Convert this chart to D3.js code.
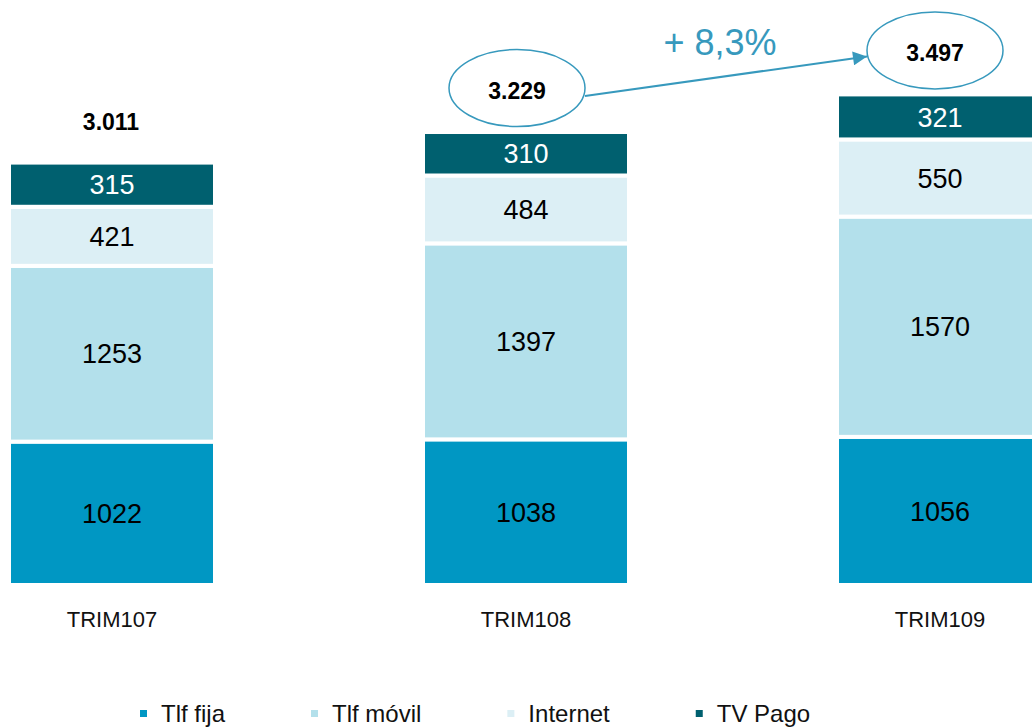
<!DOCTYPE html>
<html>
<head>
<meta charset="utf-8">
<script src="https://cdn.jsdelivr.net/npm/d3@7"></script>
<style>
  html, body { margin: 0; padding: 0; background: #fff; }
  svg { display: block; font-family: "Liberation Sans", Arial, sans-serif; }
</style>
</head>
<body>
<svg id="chart" width="1032" height="727"></svg>
<script>
// ---- data ----
const categories = ["TRIM107", "TRIM108", "TRIM109"];
const seriesNames = ["Tlf fija", "Tlf móvil", "Internet", "TV Pago"];
const tlfFija  = [1022, 1038, 1056];
const tlfMovil = [1253, 1397, 1570];
const internet = [421, 484, 550];
const tvPago   = [315, 310, 321];
const seriesColors = ["#0097C3", "#B3E0EB", "#DCEFF5", "#00606F"];
const labelColors  = ["#000", "#000", "#000", "#fff"];
const circledTotals = [false, true, true];

// ---- setup ----
const svg = d3.select("#chart");
const values = [tlfFija, tlfMovil, internet, tvPago];
const rows = categories.map((c, i) => {
  const r = { cat: c };
  seriesNames.forEach((s, j) => r[s] = values[j][i]);
  return r;
});
const stacked = d3.stack().keys(seriesNames)(rows);
const totals = categories.map((c, i) => d3.sum(values, v => v[i]));

const x = d3.scaleBand().domain(categories).range([-95, 1147])
  .paddingInner(0.5024).paddingOuter(0.2512);
const y = d3.scaleLinear().domain([0, 4170]).range([585, 0]);

const fmtThousands = v => d3.format(",")(v).replace(/,/g, ".");

// ---- bars ----
const layers = svg.append("g").selectAll("g").data(stacked).join("g")
  .attr("fill", (d, i) => seriesColors[i]);
layers.selectAll("rect").data(d => d)
  .join("rect")
  .attr("x", d => x(d.data.cat))
  .attr("width", x.bandwidth())
  .attr("y", d => y(d[1]))
  .attr("height", d => y(d[0]) - y(d[1]))
  .attr("stroke", "#fff")
  .attr("stroke-width", 4);

// ---- segment labels ----
stacked.forEach((layer, j) => {
  svg.append("g").selectAll("text").data(layer).join("text")
    .attr("x", d => x(d.data.cat) + x.bandwidth() / 2)
    .attr("y", d => (y(d[0]) + y(d[1])) / 2)
    .attr("dy", "0.36em")
    .attr("text-anchor", "middle")
    .attr("font-size", 27)
    .attr("fill", labelColors[j])
    .text(d => d[1] - d[0]);
});

// ---- category labels ----
svg.append("g").selectAll("text").data(categories).join("text")
  .attr("x", d => x(d) + x.bandwidth() / 2)
  .attr("y", 627)
  .attr("text-anchor", "middle")
  .attr("font-size", 22)
  .attr("fill", "#111")
  .text(d => d);

// ---- totals ----
const accent = "#3799BD";
const totalOffsetX = [-1, -9, -5];
const tot = categories.map((c, i) => ({
  cx: x(c) + x.bandwidth() / 2 + totalOffsetX[i],
  base: y(totals[i]) - 33,
  val: totals[i],
  circled: circledTotals[i]
}));
tot.forEach(t => {
  if (t.circled) {
    svg.append("ellipse")
      .attr("cx", t.cx).attr("cy", t.base - 11)
      .attr("rx", 68).attr("ry", 38.5)
      .attr("fill", "#fff").attr("stroke", accent).attr("stroke-width", 1.5);
  }
  svg.append("text")
    .attr("x", t.cx).attr("y", t.base)
    .attr("text-anchor", "middle")
    .attr("font-size", 23).attr("font-weight", "bold")
    .attr("fill", "#000")
    .text(fmtThousands(t.val));
});

// ---- arrow between circled totals ----
svg.append("defs").append("marker")
  .attr("id", "arrowhead").attr("viewBox", "0 0 10 10")
  .attr("refX", 10).attr("refY", 5)
  .attr("markerWidth", 8).attr("markerHeight", 7)
  .attr("markerUnits", "strokeWidth")
  .attr("orient", "auto")
  .append("path").attr("d", "M0,0 L10,5 L0,10 Z").attr("fill", accent);

const a = tot[1], b = tot[2];
const x1 = a.cx + 68, y1 = a.base - 3;
const x2 = b.cx - 68, y2 = b.base - 5;
svg.append("line")
  .attr("x1", x1).attr("y1", y1).attr("x2", x2).attr("y2", y2)
  .attr("stroke", accent).attr("stroke-width", 2)
  .attr("marker-end", "url(#arrowhead)");

const growth = (totals[2] / totals[1] - 1) * 100;
svg.append("text")
  .attr("x", (x1 + x2) / 2 - 6)
  .attr("y", 55)
  .attr("text-anchor", "middle")
  .attr("font-size", 36)
  .attr("fill", accent)
  .text("+ " + growth.toFixed(1).replace(".", ",") + "%");

// ---- legend ----
const lg = svg.append("g");
let lx = 140;
seriesNames.forEach((s, i) => {
  lg.append("rect").attr("x", lx).attr("y", 710).attr("width", 7).attr("height", 7)
    .attr("fill", seriesColors[i]);
  const t = lg.append("text").attr("x", lx + 21).attr("y", 722)
    .attr("font-size", 24).attr("fill", "#111").text(s);
  lx += 21 + t.node().getComputedTextLength() + 86;
});
</script>
</body>
</html>
